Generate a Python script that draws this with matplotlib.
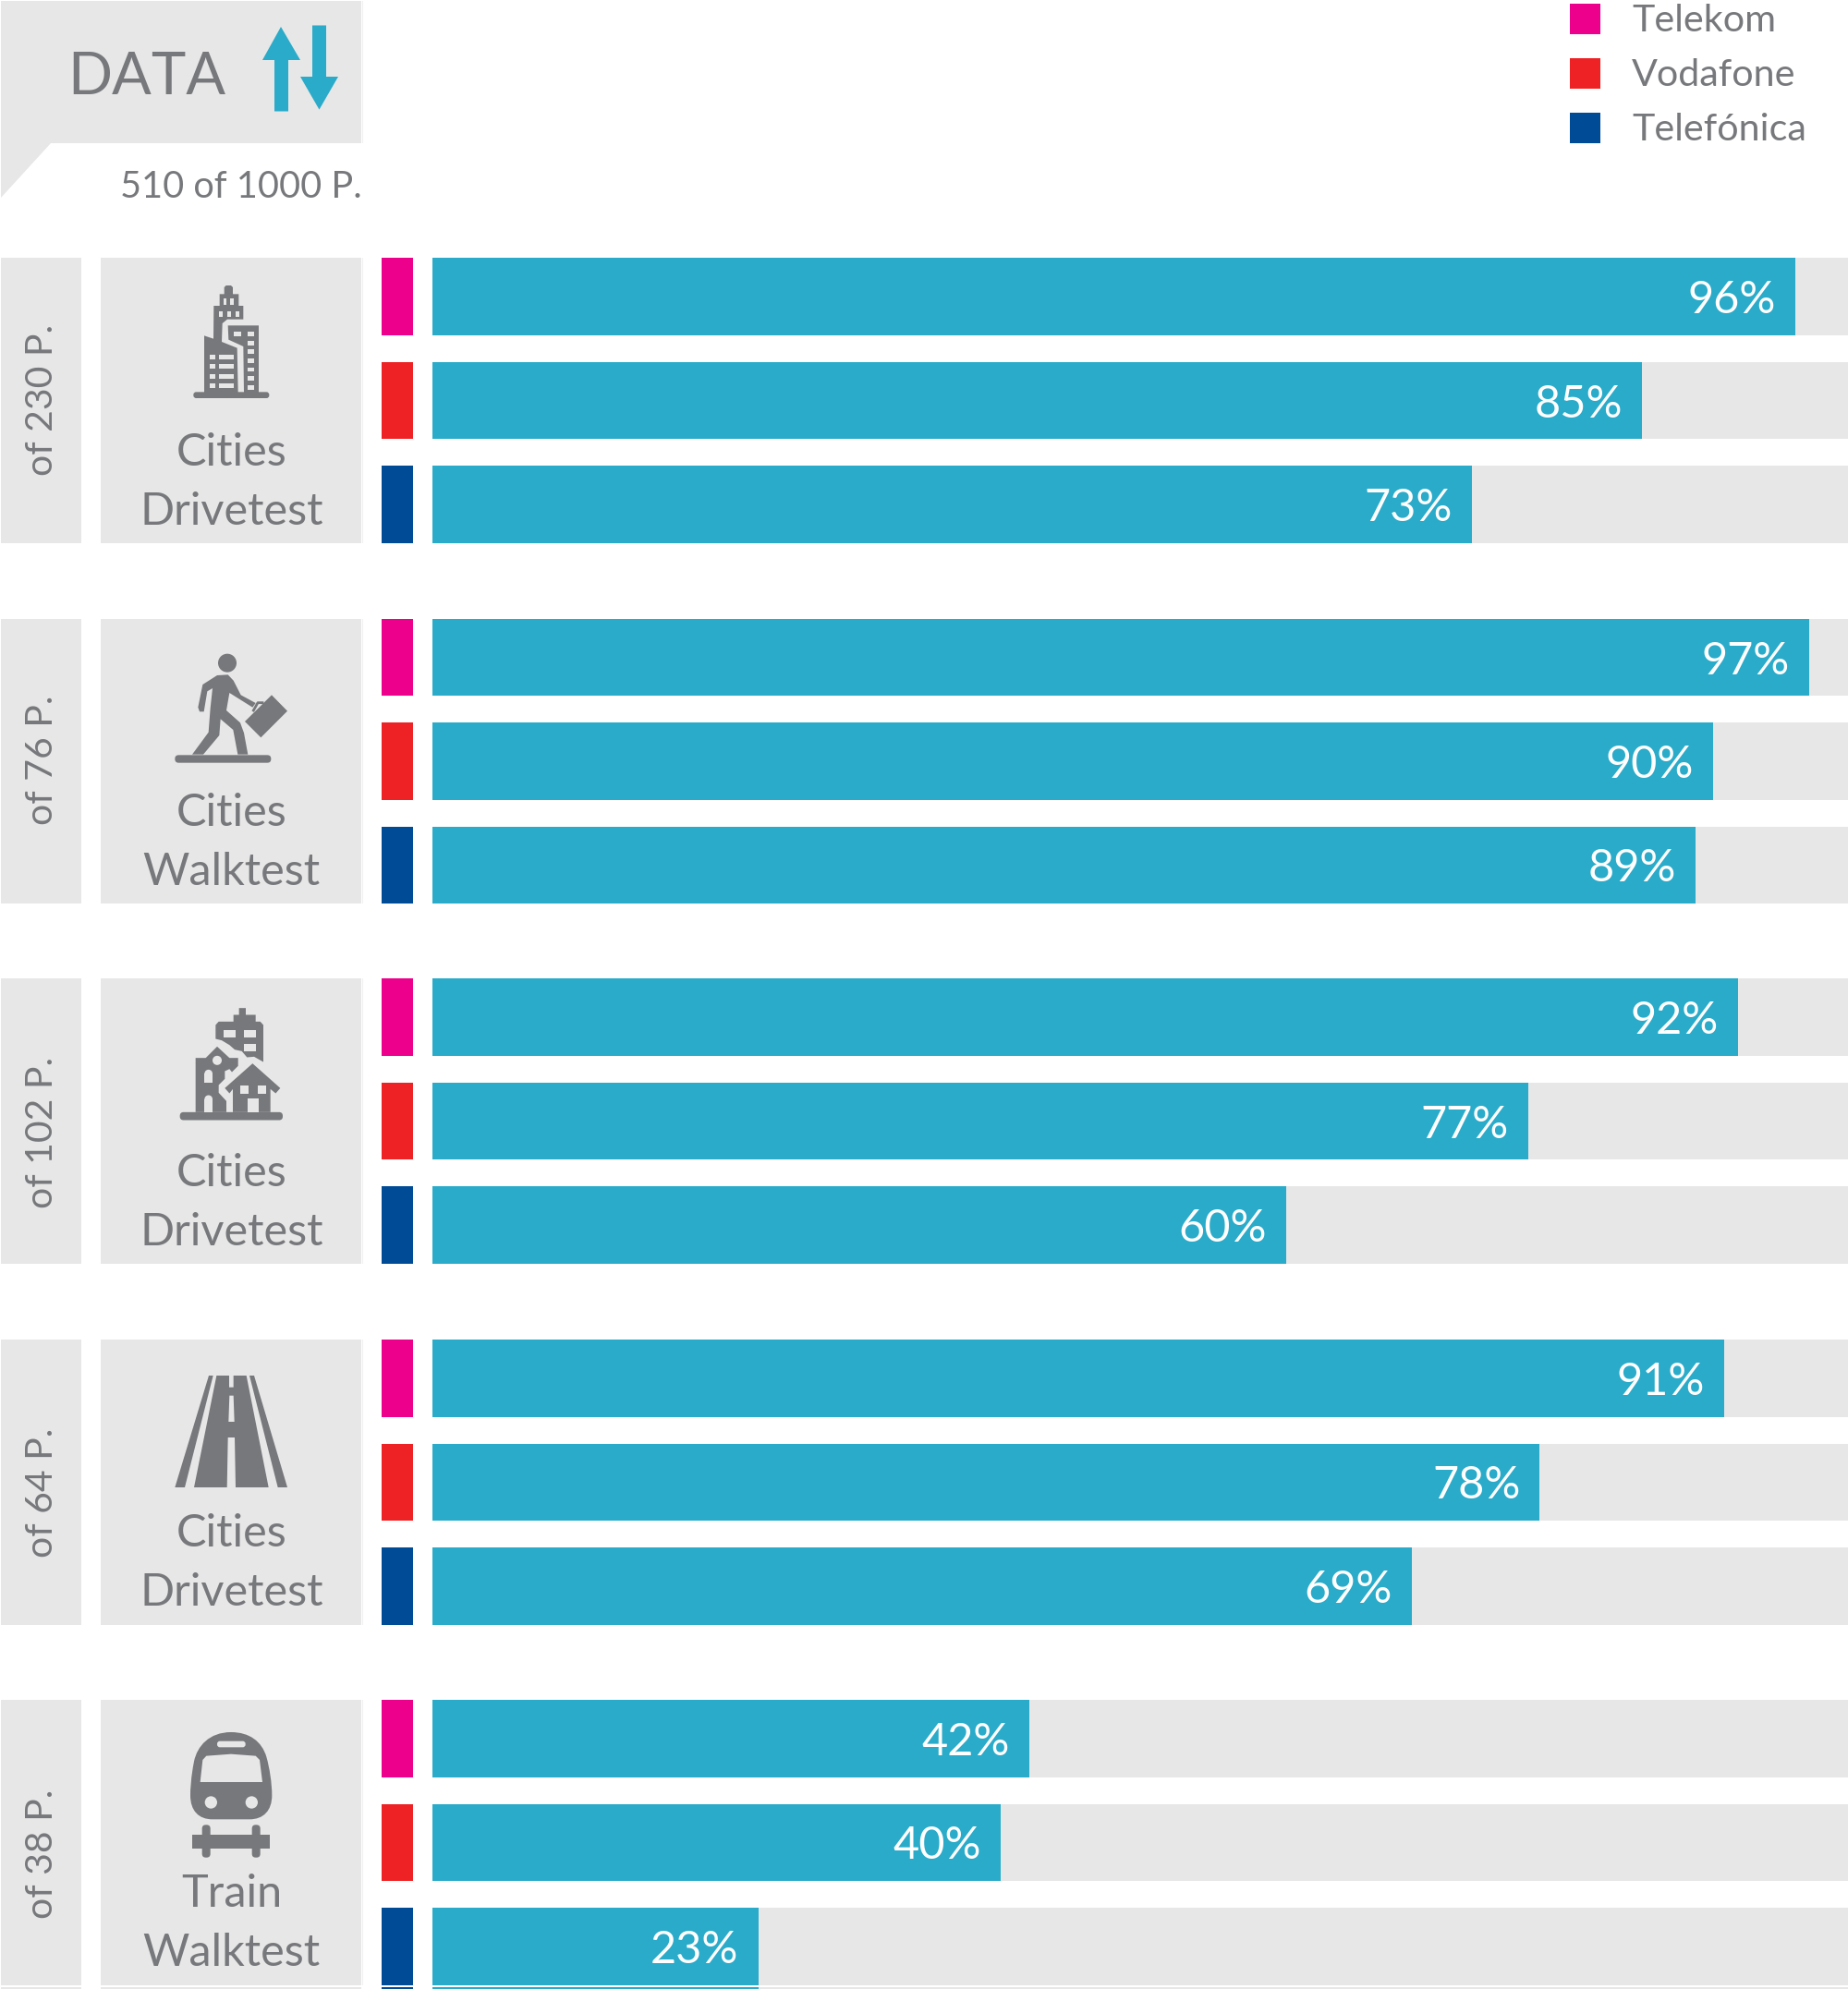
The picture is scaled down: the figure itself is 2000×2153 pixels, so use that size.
"""Coverage style chart: data share per operator and test area."""

import matplotlib
matplotlib.use("Agg")
import matplotlib.pyplot as plt
from matplotlib.patches import Circle, FancyBboxPatch, PathPatch, Polygon, Rectangle
from matplotlib.path import Path

plt.rcParams["font.family"] = ["Lato", "DejaVu Sans"]

# ── Data ───────────────────────────────────────────────────────────────────

operators  = ["Telekom", "Vodafone", "Telefónica"]
# bar lengths, the printed labels are rounded
telekom    = [96.1, 97.1, 92.1, 91.1, 42.1]
vodafone   = [85.3, 90.3, 77.3, 78.1, 40.1]
telefonica = [73.3, 89.1, 60.2, 69.1, 23.0]
points     = ["of 230 P.", "of 76 P.", "of 102 P.", "of 64 P.", "of 38 P."]
area_top   = ["Cities", "Cities", "Cities", "Cities", "Train"]
area_low   = ["Drivetest", "Walktest", "Drivetest", "Drivetest", "Walktest"]
title      = "DATA"
subtitle   = "510 of 1000 P."

# ── Layout and colours (pixels) ────────────────────────────────────────────

W, H       = 2000, 2153
GROUP_TOPS = [279, 669.5, 1059, 1450, 1840]
ROW_OFFS   = [0, 112.5, 225]
ROW_H      = 83.5
GROUP_H    = ROW_OFFS[-1] + ROW_H
BAR_X0     = 467.5
PX_PER_PCT = 15.35
# the rotated labels are not quite centred on their panels
POINTS_SHIFT = [0, -1, 13, 12, 13]

PANEL = "#E7E7E7"
TEAL  = "#29ABC9"
GREY  = "#77787B"
OPERATOR_COLORS = ["#EC008C", "#EE2224", "#004B96"]

fig = plt.figure(figsize=(W / 100, H / 100), dpi=100, facecolor="white")

ax = fig.add_axes([0, 0, 1, 1])
ax.set_xlim(0, W)
ax.set_ylim(H, 0)
ax.axis("off")

ax_bars = fig.add_axes([BAR_X0 / W, 0, 1 - BAR_X0 / W, 1])
ax_bars.set_xlim(0, (W - BAR_X0) / PX_PER_PCT)
ax_bars.set_ylim(H, 0)
ax_bars.axis("off")


def rect(x0, y0, x1, y1, color=GREY, z=2):
    ax.add_patch(Rectangle((x0, y0), x1 - x0, y1 - y0, fc=color, ec="none", zorder=z))


def poly(pts, color=GREY, z=3):
    ax.add_patch(Polygon(pts, closed=True, fc=color, ec="none", zorder=z))


def rrect(x0, y0, x1, y1, r, color=GREY, z=3):
    ax.add_patch(FancyBboxPatch((x0, y0), x1 - x0, y1 - y0,
                                boxstyle=f"round,pad=0,rounding_size={r}",
                                fc=color, ec="none", zorder=z))


def circle(cx, cy, r, color=GREY, z=3):
    ax.add_patch(Circle((cx, cy), r, fc=color, ec="none", zorder=z))


def at(ox, oy, pts):
    return [(ox + x / 3, oy + y / 3) for x, y in pts]


def box(ox, oy, x0, y0, x1, y1, color=PANEL, z=4):
    rect(ox + x0 / 3, oy + y0 / 3, ox + x1 / 3, oy + y1 / 3, color, z)


# ── Icons ──────────────────────────────────────────────────────────────────

def icon_city(oy_group):
    ox, oy = 190, oy_group + 16
    rrect(ox + 58 / 3, oy + 388 / 3, ox + 304 / 3, oy + 408 / 3, 3)
    poly(at(ox, oy, [(158, 48), (164, 42), (180, 42), (186, 48), (186, 70), (205, 70),
                     (205, 108), (220, 108), (220, 152), (168, 152), (152, 165), (150, 225),
                     (200, 245), (203, 390), (93, 390), (93, 205), (123, 215), (124, 108),
                     (143, 108), (143, 70), (158, 70)]))
    poly(at(ox, oy, [(170, 172), (270, 172), (270, 390), (222, 390), (220, 240), (172, 218)]))
    for x0, x1 in [(155, 165), (178, 190)]:
        box(ox, oy, x0, 85, x1, 105)
    for x0, x1 in [(140, 152), (167, 180), (195, 207)]:
        box(ox, oy, x0, 125, x1, 145)
    box(ox, oy, 190, 193, 212, 207)
    for y0 in [193, 222, 250, 279, 308, 337, 366]:
        box(ox, oy, 234, y0, 256, y0 + 14)
    for y0 in [268, 298, 330, 360]:
        box(ox, oy, 110, y0, 129, y0 + 14)
        box(ox, oy, 140, y0, 188, y0 + 14)


def icon_walker(oy_group):
    ox, oy = 180, oy_group + 25.5
    rrect(ox + 28 / 3, oy + 367 / 3, ox + 340 / 3, oy + 392 / 3, 4)
    circle(ox + 198 / 3, oy + 68 / 3, 10)
    poly(at(ox, oy, [(165, 108), (118, 138), (103, 212), (108, 226), (122, 226), (133, 160),
                     (150, 150), (143, 215), (137, 293), (84, 365), (120, 365), (172, 303),
                     (176, 250), (217, 285), (232, 365), (265, 365), (252, 295), (240, 262),
                     (195, 222), (205, 165), (280, 212), (290, 198), (242, 172), (218, 125),
                     (200, 106)]))
    poly(at(ox, oy, [(342, 172), (393, 224), (307, 310), (255, 258)]))
    handle = at(ox, oy, [(283, 222), (297, 197), (312, 197)])
    ax.plot(*zip(*handle), color=GREY, lw=2.0, zorder=3)


def icon_town(oy_group):
    ox, oy = 180, oy_group + 25.5
    rrect(ox + 44 / 3, oy + 358 / 3, ox + 378 / 3, oy + 384 / 3, 4)
    poly(at(ox, oy, [(236, 20), (258, 20), (258, 42), (290, 42), (290, 64), (305, 64),
                     (315, 75), (315, 195), (285, 178), (262, 180), (245, 160), (222, 155),
                     (205, 140), (180, 125), (160, 120), (160, 75), (170, 64), (218, 64),
                     (218, 42), (236, 42)]))
    box(ox, oy, 187, 90, 225, 115)
    box(ox, oy, 253, 90, 291, 115)
    box(ox, oy, 253, 135, 291, 160)
    poly(at(ox, oy, [(95, 182), (128, 182), (165, 145), (205, 182), (233, 182), (233, 208),
                     (213, 228), (205, 218), (190, 225), (190, 250), (170, 270), (170, 295),
                     (195, 322), (195, 358), (95, 358)]))
    circle(ox + 165 / 3, oy + 190 / 3, 5, PANEL, 4)
    for y0, y1 in [(233, 262), (316, 358)]:
        box(ox, oy, 124, y0, 150, y1)
        circle(ox + 137 / 3, oy + y0 / 3, 13 / 3, PANEL, 4)
    poly(at(ox, oy, [(280, 200), (370, 280), (355, 297), (338, 283), (338, 358), (216, 358),
                     (216, 283), (205, 297), (190, 280)]))
    box(ox, oy, 240, 271, 267, 297)
    box(ox, oy, 297, 271, 324, 297)
    box(ox, oy, 265, 313, 300, 358)


def icon_road(oy_group):
    ox, oy = 180, oy_group + 30
    poly(at(ox, oy, [(138, 27), (152, 27), (60, 390), (28, 390)]))
    poly(at(ox, oy, [(270, 27), (285, 27), (393, 390), (362, 390)]))
    poly(at(ox, oy, [(163, 27), (204, 27), (204, 65), (218, 65), (218, 27), (260, 27),
                     (332, 390), (225, 390), (222, 228), (200, 228), (197, 390), (90, 390)]))
    poly(at(ox, oy, [(205, 92), (218, 92), (221, 177), (202, 177)]), PANEL, 4)


def icon_train(oy_group):
    ox, oy = 180, oy_group + 30
    outline = [(210, 15), (140, 15), (100, 60), (90, 110), (80, 160), (78, 200), (78, 220),
               (78, 270), (105, 298), (150, 298), (270, 298), (315, 298), (343, 270), (343, 220),
               (343, 180), (335, 130), (325, 95), (310, 45), (270, 15), (210, 15)]
    codes = [Path.MOVETO] + [Path.CURVE4] * 9 + [Path.LINETO] + [Path.CURVE4] * 9
    ax.add_patch(PathPatch(Path(at(ox, oy, outline), codes), fc=GREY, ec="none", zorder=3))
    poly(at(ox, oy, [(110, 177), (118, 105), (130, 92), (210, 86), (290, 92), (303, 105),
                     (312, 177)]), PANEL, 4)
    rrect(ox + 165 / 3, oy + 44 / 3, ox + 257 / 3, oy + 64 / 3, 3, PANEL, 4)
    circle(ox + 145 / 3, oy + 243 / 3, 20 / 3, PANEL, 4)
    circle(ox + 277 / 3, oy + 243 / 3, 20 / 3, PANEL, 4)
    box(ox, oy, 85, 347, 337, 392, GREY, 3)
    rrect(ox + 116 / 3, oy + 316 / 3, ox + 143 / 3, oy + 422 / 3, 4)
    rrect(ox + 278 / 3, oy + 316 / 3, ox + 305 / 3, oy + 422 / 3, 4)


ICONS = [icon_city, icon_walker, icon_town, icon_road, icon_train]

# ── Header and legend ──────────────────────────────────────────────────────

poly([(1, 1), (391, 1), (391, 155), (55, 155), (1, 214)], PANEL, 1)
rect(392, 1, 393, 155, "#F0F0F0", 1)
ax.text(73, 102, title, color=GREY, fontsize=45.5, ha="left", va="baseline")
ax.text(392, 214, subtitle, color=GREY, fontsize=28.6, ha="right", va="baseline")

poly([(304, 29), (325, 65), (312, 65), (312, 120.5), (297, 120.5), (297, 65), (284, 65)], TEAL)
poly([(338, 27.5), (353, 27.5), (353, 83), (366, 83), (345.5, 118.6), (325, 83), (338, 83)], TEAL)

for i, (name, color) in enumerate(zip(operators, OPERATOR_COLORS)):
    y0 = 4 + i * 59
    rect(1698.5, y0, 1732, y0 + 33, color)
    ax.text(1766, y0 + 30, name, color=GREY, fontsize=29.7, ha="left", va="baseline")

# ── Groups ─────────────────────────────────────────────────────────────────

for g, top in enumerate(GROUP_TOPS):
    rect(1, top, 88, top + GROUP_H, PANEL, 1)
    rect(109, top, 391, top + GROUP_H, PANEL, 1)
    rect(392, top, 393, top + GROUP_H, "#F0F0F0", 1)
    ICONS[g](top)

    ax.text(57, top + GROUP_H / 2 + POINTS_SHIFT[g], points[g], color=GREY, fontsize=29.5,
            rotation=90, ha="center", va="baseline", rotation_mode="anchor")
    low_y = top + GROUP_H - 20
    ax.text(250.5, low_y - 64, area_top[g], color=GREY, fontsize=35, ha="center", va="baseline")
    ax.text(250.5, low_y, area_low[g], color=GREY, fontsize=35, ha="center", va="baseline")

    for off, series, color in zip(ROW_OFFS, [telekom, vodafone, telefonica], OPERATOR_COLORS):
        y0 = top + off
        yc = y0 + ROW_H / 2
        rect(413, y0, 446.5, y0 + ROW_H, color)
        ax_bars.barh(yc, 100, height=ROW_H, color=PANEL, linewidth=0, zorder=1)
        ax_bars.barh(yc, series[g], height=ROW_H, color=TEAL, linewidth=0, zorder=2)
        ax_bars.text(series[g] - 1.37, y0 + 60, f"{round(series[g])}%", color="white", fontsize=35,
                     ha="right", va="baseline", zorder=3)

# next row of the source graphic is cut off by the lower edge
sliver_y = 2151
rect(1, sliver_y, 88, H, PANEL, 1)
rect(109, sliver_y, 391, H, PANEL, 1)
rect(413, sliver_y, 446.5, H, OPERATOR_COLORS[2])
ax_bars.barh(sliver_y + ROW_H / 2, 100, height=ROW_H, color=PANEL, linewidth=0, zorder=1)
ax_bars.barh(sliver_y + ROW_H / 2, telefonica[-1], height=ROW_H, color=TEAL, linewidth=0, zorder=2)

fig.savefig("out.png", dpi=100, facecolor="white")
plt.close(fig)
